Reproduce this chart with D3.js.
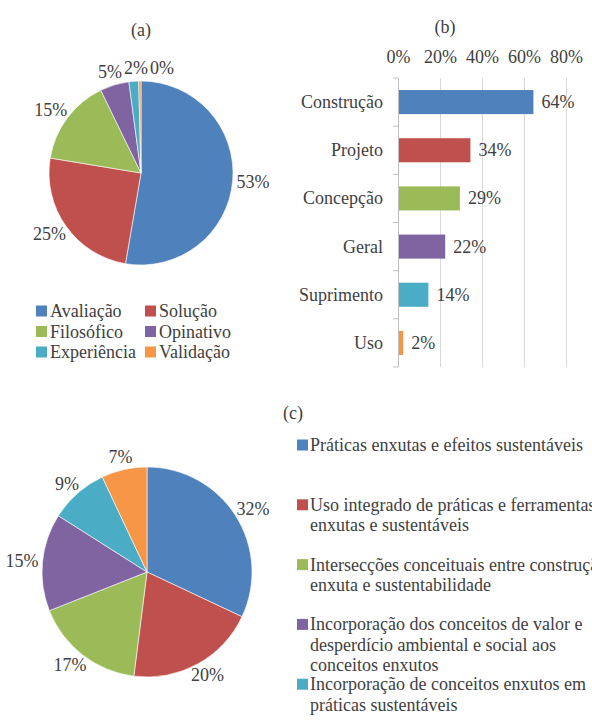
<!DOCTYPE html>
<html lang="pt-br">
<head>
  <meta charset="utf-8">
  <title>Gráficos (a) (b) (c)</title>
  <script src="https://d3js.org/d3.v7.min.js"></script>
  <style>
    body { margin: 0; background: #fff; }
    #chart text {
      font-family: "Liberation Serif", "Times New Roman", serif;
      font-size: 18px;
      fill: #404040;
    }
  </style>
</head>
<body>
  <div id="chart"></div>

  <script type="text/javascript">
    "use strict"

    // (a) tipo de estudo
    var categoriasA = ["Avaliação", "Solução", "Filosófico", "Opinativo", "Experiência", "Validação"];
    var valoresA = [52.7, 24.9, 15.2, 5.1, 1.7, 0.4];

    // (b) fase do ciclo de vida
    var categoriasB = ["Construção", "Projeto", "Concepção", "Geral", "Suprimento", "Uso"];
    var valoresB = [0.64, 0.34, 0.29, 0.22, 0.14, 0.02];
    var ticksB = [0, 0.2, 0.4, 0.6, 0.8];

    // (c) abordagem (a legenda do 6º item fica fora da figura)
    var categoriasC = [
      "Práticas enxutas e efeitos sustentáveis",
      "Uso integrado de práticas e ferramentas\nenxutas e sustentáveis",
      "Intersecções conceituais entre construção\nenxuta e sustentabilidade",
      "Incorporação dos conceitos de valor e\ndesperdício ambiental e social aos\nconceitos enxutos",
      "Incorporação de conceitos enxutos em\npráticas sustentáveis"
    ];
    var valoresC = [32, 20, 17, 15, 9, 7];

    var cores = ["#4F81BD", "#C0504D", "#9BBB59", "#8064A2", "#4BACC6", "#F79646"];

    var svg = d3.select('#chart')
      .append('svg')
        .attr('width', 592)
        .attr('height', 727);

    var pct = d3.format(".0%");

    function desenhaPizza(cx, cy, r, valores) {
      var g = svg.append('g').attr('transform', 'translate(' + cx + ',' + cy + ')');
      var total = d3.sum(valores);
      var fatias = d3.pie().sort(null).value(d => d)(valores);
      var arco = d3.arc().innerRadius(0).outerRadius(r);

      g.selectAll('path')
        .data(fatias)
        .enter()
          .append('path')
            .attr('d', arco)
            .attr('fill', (d, i) => cores[i])
            .attr('stroke', '#fff')
            .attr('stroke-width', 0.6);

      // rótulos fora da borda, empurrando para a direita quando se sobrepõem
      var caixas = [];
      fatias.forEach(function (d) {
        var t = g.append('text')
          .attr('text-anchor', 'middle')
          .attr('dominant-baseline', 'central')
          .text(Math.round(d.value / total * 100) + "%");
        var w = t.node().getComputedTextLength(), h = 18;
        var a = (d.startAngle + d.endAngle) / 2;
        var dx = Math.sin(a), dy = -Math.cos(a);
        var x = dx * (r + 4) + dx * w / 2;
        var y = dy * (r + 4) + dy * h / 2;
        caixas.forEach(function (c) {
          if (Math.abs(c.y - y) < h && Math.abs(c.x - x) < (c.w + w) / 2 + 2) {
            x = c.x + (c.w + w) / 2 + 2;
          }
        });
        caixas.push({x: x, y: y, w: w});
        t.attr('x', x).attr('y', y);
      });
    }

    // ---------- (a) ----------
    svg.append('text').attr('x', 141).attr('y', 30)
      .attr('text-anchor', 'middle').attr('dominant-baseline', 'central').text('(a)');

    desenhaPizza(141, 173, 92, valoresA);

    var legA = svg.append('g');
    categoriasA.forEach(function (c, i) {
      var lx = i % 2 == 0 ? 36 : 145;
      var ly = 311 + Math.floor(i / 2) * 20.5;
      legA.append('rect').attr('x', lx).attr('y', ly - 5.5)
        .attr('width', 11).attr('height', 11).attr('fill', cores[i]);
      legA.append('text').attr('x', lx + 14).attr('y', ly)
        .attr('dominant-baseline', 'central').text(c);
    });

    // ---------- (b) ----------
    svg.append('text').attr('x', 445).attr('y', 27)
      .attr('text-anchor', 'middle').attr('dominant-baseline', 'central').text('(b)');

    var topo = 78, base = 367;
    var x = d3.scaleLinear().domain([0, 0.8]).range([398, 566]);
    var y = d3.scaleBand().domain(categoriasB).range([topo, base])
              .paddingInner(0.5).paddingOuter(0.25);

    var eixoX = svg.append('g')
      .attr('transform', 'translate(0,' + topo + ')')
      .call(d3.axisTop(x).tickValues(ticksB).tickFormat(pct)
              .tickSizeInner(-(base - topo)).tickSizeOuter(0).tickPadding(15));
    eixoX.select('.domain').remove();
    eixoX.selectAll('line').attr('stroke', '#d9d9d9');
    eixoX.selectAll('text').attr('fill', null);
    eixoX.selectAll('.tick').filter(d => d == 0).select('line').remove();

    var eixoY = svg.append('g')
      .attr('transform', 'translate(398,0)')
      .call(d3.axisLeft(y).tickSize(0).tickPadding(15));
    eixoY.select('.domain').attr('stroke', '#bfbfbf')
      .attr('d', 'M0.5,' + topo + 'V' + base);
    eixoY.selectAll('text').attr('fill', null).attr('dy', null)
      .attr('dominant-baseline', 'central');

    // marcas de divisão das categorias
    svg.append('g').selectAll('line')
      .data(d3.range(categoriasB.length + 1))
      .enter()
        .append('line')
          .attr('x1', 393).attr('x2', 398)
          .attr('y1', i => topo + i * y.step())
          .attr('y2', i => topo + i * y.step())
          .attr('stroke', '#bfbfbf');

    svg.append('g').selectAll('rect')
      .data(valoresB)
      .enter()
        .append('rect')
          .attr('x', x(0) + 1)
          .attr('y', (d, i) => y(categoriasB[i]))
          .attr('width', d => x(d) - x(0))
          .attr('height', y.bandwidth())
          .attr('fill', (d, i) => cores[i]);

    svg.append('g').selectAll('text')
      .data(valoresB)
      .enter()
        .append('text')
          .attr('x', d => x(d) + 9)
          .attr('y', (d, i) => y(categoriasB[i]) + y.bandwidth() / 2)
          .attr('dominant-baseline', 'central')
          .text(d => pct(d));

    // ---------- (c) ----------
    svg.append('text').attr('x', 293).attr('y', 413)
      .attr('text-anchor', 'middle').attr('dominant-baseline', 'central').text('(c)');

    desenhaPizza(147, 572, 105, valoresC);

    var legC = svg.append('g');
    categoriasC.forEach(function (c, i) {
      var ly = 445 + i * 59.8;
      legC.append('rect').attr('x', 297).attr('y', ly - 5.5)
        .attr('width', 11).attr('height', 11).attr('fill', cores[i]);
      var t = legC.append('text').attr('x', 310).attr('y', ly)
        .attr('dominant-baseline', 'central');
      c.split("\n").forEach(function (linha, k) {
        t.append('tspan').attr('x', 310).attr('y', ly + k * 20.3).text(linha);
      });
    });
  </script>
</body>
</html>
